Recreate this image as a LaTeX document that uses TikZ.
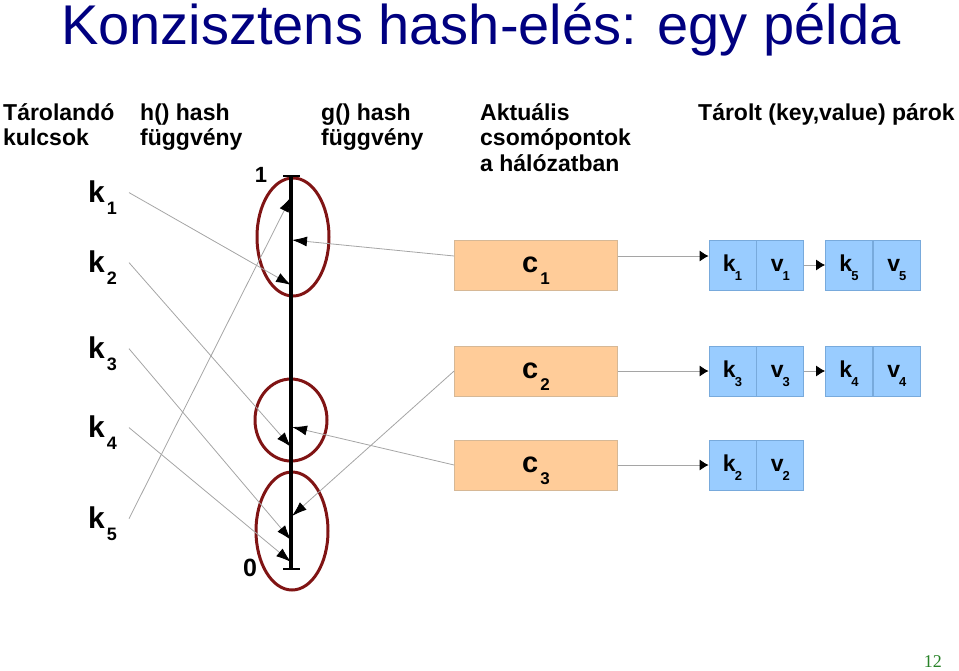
\documentclass[tikz,border=0pt]{standalone}
\usepackage{fontspec}
\setmainfont{Liberation Sans}
\newfontfamily\pagefont{Liberation Serif}
\usepackage{tikz}
\usetikzlibrary{arrows.meta,positioning,calc}

\definecolor{titleblue}{RGB}{0,0,128}
\definecolor{nodeorange}{RGB}{255,204,153}
\definecolor{nodeborder}{RGB}{214,184,150}
\definecolor{pairblue}{RGB}{153,204,255}
\definecolor{pairborder}{RGB}{120,170,220}
\definecolor{zonered}{RGB}{128,20,20}
\definecolor{linkgray}{RGB}{165,165,165}
\definecolor{pagegreen}{RGB}{40,130,40}

\newcommand{\bigsub}[2]{{\fontsize{30}{30}\selectfont #1}\kern2pt\raisebox{-12.9pt}{\fontsize{18}{18}\selectfont #2}}
\newcommand{\nodesub}[2]{{\fontsize{29}{29}\selectfont #1}\kern2pt\raisebox{-12.2pt}{\fontsize{17}{17}\selectfont #2}}
\newcommand{\smallsub}[2]{{\fontsize{23}{23}\selectfont #1}\kern-1pt\raisebox{-9.3pt}{\fontsize{13}{13}\selectfont #2}}

\begin{document}
\begin{tikzpicture}[
  x=1pt,y=-1pt,
  hashto/.style={draw=linkgray,line width=0.8pt,
    -{Latex[length=15pt,width=10pt,color=black]}},
  pairlink/.style={draw=linkgray,line width=0.8pt,
    -{Latex[length=9pt,width=11pt,color=black]}},
  header/.style={anchor=base west,inner sep=0pt,align=left,
    font=\fontsize{23}{25.5}\selectfont\bfseries},
  keylbl/.style={anchor=base east,inner xsep=12pt,inner ysep=0pt,font=\bfseries},
  server/.style={draw=nodeborder,fill=nodeorange,line width=0.8pt,
    minimum width=163pt,minimum height=50pt,text height=26pt,text depth=12pt,
    inner ysep=0pt,font=\bfseries},
  cell/.style={draw=pairborder,fill=pairblue,line width=0.8pt,inner sep=0pt,
    minimum width=47pt,minimum height=50pt,text height=20pt,text depth=8pt,
    font=\bfseries},
  zone/.style={draw=zonered,line width=3pt},
  ringend/.style={inner sep=0pt,font=\fontsize{22}{22}\selectfont\bfseries}
]
  \useasboundingbox (0,0) rectangle (959,670);

  \node[anchor=base west,inner sep=0pt,text=titleblue,
    font=\fontsize{56}{56}\selectfont] (title) at (61,44)
    {Konzisztens hash-elés: egy példa};

  \node[header] (hdrkeys) at (3,145.5) {Tárolandó\\kulcsok};
  \node[header] (hdrh) at (140,145.5) {h() hash\\függvény};
  \node[header] (hdrg) at (321,145.5) {g() hash\\függvény};
  \node[header] (hdrnodes) at (480,171) {Aktuális\\csomópontok\\a hálózatban};
  \node[header] (hdrpairs) at (698,120) {Tárolt (key,value) párok};

  \node[keylbl] (k1) at (129,202) {\bigsub{k}{1}};
  \node[keylbl] (k2) at (129,272) {\bigsub{k}{2}};
  \node[keylbl] (k3) at (129,358) {\bigsub{k}{3}};
  \node[keylbl] (k4) at (129,437) {\bigsub{k}{4}};
  \node[keylbl] (k5) at (129,528) {\bigsub{k}{5}};

  \draw[zone] (293,237) ellipse [x radius=36pt,y radius=59pt];
  \draw[zone] (291,420) ellipse [x radius=36pt,y radius=41pt];
  \draw[zone] (292,531) ellipse [x radius=36pt,y radius=59pt];

  \coordinate (ringtop) at (291,176);
  \coordinate (ringbot) at (291,569);
  \draw[line width=3.2pt] (ringtop) -- (ringbot);
  \draw[line width=1.5pt] ([xshift=-8pt]ringtop) -- ([xshift=9pt]ringtop);
  \draw[line width=1.5pt] ([xshift=-8pt]ringbot) -- ([xshift=9pt]ringbot);
  \node[ringend] (one) at (261,175) {1};
  \node[ringend,font=\fontsize{25}{25}\selectfont\bfseries] (zero) at (250,568) {0};

  \coordinate (hk1) at (291,285);
  \coordinate (hk2) at (291,447);
  \coordinate (hk3) at (291,540);
  \coordinate (hk4) at (291,562);
  \coordinate (hk5) at (291,197);
  \coordinate (gc1) at (292,240);
  \coordinate (gc2) at (292,516);
  \coordinate (gc3) at (292,427);

  \node[server] (c1) at (536,265) {\nodesub{c}{1}};
  \node[server] (c2) at (536,371) {\nodesub{c}{2}};
  \node[server] (c3) at (536,465) {\nodesub{c}{3}};

  \node[cell] (k1c) at (732.5,265) {\smallsub{k}{1}};
  \node[cell,right=0pt of k1c] (v1c) {\smallsub{v}{1}};
  \node[cell] (k5c) at (849,265) {\smallsub{k}{5}};
  \node[cell,right=0pt of k5c] (v5c) {\smallsub{v}{5}};
  \node[cell] (k3c) at (732.5,371) {\smallsub{k}{3}};
  \node[cell,right=0pt of k3c] (v3c) {\smallsub{v}{3}};
  \node[cell] (k4c) at (849,371) {\smallsub{k}{4}};
  \node[cell,right=0pt of k4c] (v4c) {\smallsub{v}{4}};
  \node[cell] (k2c) at (732.5,465) {\smallsub{k}{2}};
  \node[cell,right=0pt of k2c] (v2c) {\smallsub{v}{2}};

  \draw[hashto] ([yshift=5pt]k1.east) -- (hk1);
  \draw[hashto] ([yshift=5pt]k2.east) -- (hk2);
  \draw[hashto] ([yshift=5pt]k3.east) -- (hk3);
  \draw[hashto] ([yshift=5pt]k4.east) -- (hk4);
  \draw[hashto] ([yshift=5pt]k5.east) -- (hk5);
  \draw[hashto] ([yshift=9pt]c1.west) -- (gc1);
  \draw[hashto] (c2.west) -- (gc2);
  \draw[hashto] (c3.west) -- (gc3);

  \draw[pairlink] ([yshift=9pt]c1.east) -- ([yshift=9pt]k1c.west);
  \draw[pairlink] (v1c.east) -- (k5c.west);
  \draw[pairlink] (c2.east) -- (k3c.west);
  \draw[pairlink] (v3c.east) -- (k4c.west);
  \draw[pairlink] (c3.east) -- (k2c.west);

  \node[anchor=base east,inner sep=0pt,text=pagegreen,
    font=\pagefont\fontsize{18}{18}\selectfont] (pagenum) at (942,667) {12};
\end{tikzpicture}
\end{document}
